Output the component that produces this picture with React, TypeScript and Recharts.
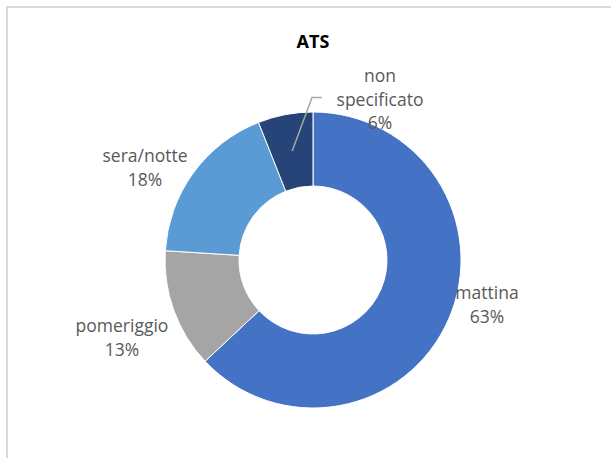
import React from "react";
import { PieChart, Pie, Cell } from "recharts";

const categories = ["mattina", "pomeriggio", "sera/notte", "non specificato"];
const values = [63, 13, 18, 6];
const colors = ["#4472C4", "#A5A5A5", "#5B9BD5", "#264478"];
const labelLines = [["mattina"], ["pomeriggio"], ["sera/notte"], ["non", "specificato"]];

const data = categories.map((name, i) => ({ name, value: values[i] }));

// label anchor offsets from pie center (px)
const labelOffsets = [
  { dx: 174, dy: 32 },
  { dx: -191, dy: 65 },
  { dx: -168, dy: -105 },
  { dx: 67, dy: -185 },
];

const FONT = "'Open Sans', 'Noto Sans', sans-serif";

const renderLabel = (props: any) => {
  const { cx, cy, index, percent, midAngle, outerRadius } = props;
  const off = labelOffsets[index];
  const x = cx + off.dx;
  const y = cy + off.dy;
  const lines = [...labelLines[index], `${Math.round(percent * 100)}%`];
  const lh = 23.5;
  const RAD = Math.PI / 180;
  let leader = null;
  if (index === 3) {
    const r = outerRadius * 0.75;
    const sx = cx + r * Math.cos(-midAngle * RAD);
    const sy = cy + r * Math.sin(-midAngle * RAD);
    const ey = y + lh - 1;
    leader = (
      <polyline
        points={`${sx},${sy} ${x - 68},${ey} ${x - 58},${ey}`}
        fill="none"
        stroke="#A6A6A6"
        strokeWidth={1.5}
      />
    );
  }
  return (
    <g>
      {leader}
      <text
        x={x}
        y={y}
        textAnchor="middle"
        fill="#595959"
        fontFamily={FONT}
        fontSize={17.5}
      >
        {lines.map((l, i) => (
          <tspan key={i} x={x} dy={i === 0 ? 0 : lh} dominantBaseline="central">
            {l}
          </tspan>
        ))}
      </text>
    </g>
  );
};

export default function App() {
  return (
    <div
      style={{
        position: "absolute",
        left: 0,
        top: 0,
        width: 611,
        height: 458,
        overflow: "hidden",
        background: "#fff",
      }}
    >
      <div
        style={{
          position: "absolute",
          left: 6,
          top: 6,
          width: 640,
          height: 480,
          border: "2px solid #D9D9D9",
        }}
      />
      <div
        style={{
          position: "absolute",
          left: 0,
          width: 626,
          top: 29,
          textAlign: "center",
          fontFamily: FONT,
          fontWeight: "bold",
          fontSize: 18,
          color: "#000",
        }}
      >
        ATS
      </div>
      <div style={{ position: "absolute", left: 0, top: 0 }}>
        <PieChart width={611} height={458} margin={{ top: 0, right: 0, bottom: 0, left: 0 }}>
          <Pie
            data={data}
            dataKey="value"
            nameKey="name"
            cx={313}
            cy={260}
            innerRadius={74}
            outerRadius={148}
            startAngle={90}
            endAngle={-270}
            stroke="#fff"
            strokeWidth={1}
            label={renderLabel}
            labelLine={false}
            isAnimationActive={false}
          >
            {data.map((d, i) => (
              <Cell key={d.name} fill={colors[i]} />
            ))}
          </Pie>
        </PieChart>
      </div>
    </div>
  );
}
